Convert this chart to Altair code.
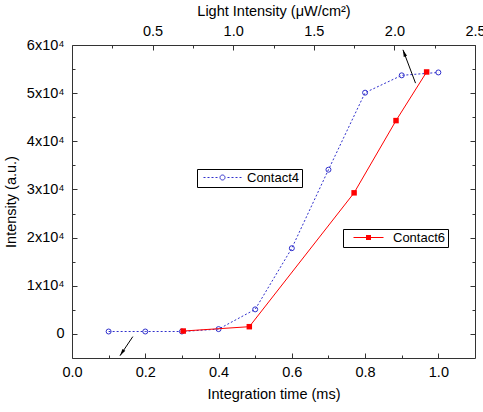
import altair as alt
import pandas as pd

# Contact4: intensity vs integration time (bottom axis)
c4_time = [0.1, 0.2, 0.3, 0.4, 0.5, 0.6, 0.7, 0.8, 0.9, 1.0]
c4_intensity = [500, 500, 500, 1000, 5100, 17800, 34100, 50100, 53700, 54300]

# Contact6: intensity vs light intensity (top axis)
c6_light = [0.69, 1.10, 1.75, 2.01, 2.20]
c6_intensity = [600, 1500, 29300, 44300, 54400]

# Axis ticks
time_labels = [0.0, 0.2, 0.4, 0.6, 0.8, 1.0]
time_minor = [0.1, 0.3, 0.5, 0.7, 0.9]
light_labels = [0.5, 1.0, 1.5, 2.0, 2.5]
light_minor = [0.25, 0.75, 1.25, 1.75, 2.25]
y_labels = [0, 10000, 20000, 30000, 40000, 50000, 60000]
y_minor = [5000, 15000, 25000, 35000, 45000, 55000]

# Arrows pointing each series to its own axis: [tail, tip]
arrow_time_x = [0.166, 0.131]
arrow_time_y = [-560, -4520]
arrow_light_x = [2.131, 2.053]
arrow_light_y = [52080, 59000]

FONT = "Liberation Sans"
BLUE = "#3030cc"
RED = "#ff0000"
TICK = "#333333"

x_time = alt.Scale(domain=[0, 1.1], nice=False, zero=False)
x_light = alt.Scale(domain=[0, 2.5], nice=False, zero=False)
y_scale = alt.Scale(domain=[-5000, 60000], nice=False, zero=False)

common = dict(grid=False, domain=False, labelFont=FONT, labelFontSize=14.5,
              labelColor="black", titleFont=FONT, titleFontSize=14.5,
              titleFontWeight="normal", titleColor="black",
              labelFlush=False, labelOverlap=False)


def label_axis(orient, values, title, **kw):
    return alt.Axis(orient=orient, values=values, ticks=False, tickSize=0,
                    title=title, **common, **kw)


def tick_axis(orient, values, size):
    # ticks drawn inward: the axis is pulled into the plot by its tick length
    return alt.Axis(orient=orient, values=values, labels=False, ticks=True,
                    tickSize=size, offset=-size, tickColor=TICK, tickWidth=1,
                    title=None, grid=False, domain=False)


ax_bottom = label_axis("bottom", time_labels, "Integration time (ms)",
                       format=".1f", labelPadding=7, titlePadding=9)
ax_top = label_axis("top", light_labels, "Light Intensity (\u03bcW/cm\u00b2)",
                    format=".1f", labelPadding=7, titlePadding=5)
ax_left = label_axis("left", y_labels, "Intensity (a.u.)", labelPadding=8,
                     titlePadding=8,
                     labelExpr="datum.value === 0 ? '0' : format(datum.value / 10000, 'd') + 'x10\u2074'")

c4 = pd.DataFrame({"t": c4_time, "v": c4_intensity, "series": "Contact4"})
c6 = pd.DataFrame({"l": c6_light, "v": c6_intensity, "series": "Contact6"})
a1 = pd.DataFrame({"x": arrow_time_x, "y": arrow_time_y, "order": [0, 1]})
a2 = pd.DataFrame({"x": arrow_light_x, "y": arrow_light_y, "order": [0, 1]})


def dotted(start, end, skip_lo, skip_hi, dash=0.4, gap=0.4):
    parts = []
    x = start
    while x < end - 1e-9:
        x2 = min(x + dash, end)
        if x2 <= skip_lo or x >= skip_hi:
            parts.append(f"M{x:.2f},0H{x2:.2f}")
        x += dash + gap
    return "".join(parts)


# legend samples: line with the series marker in the middle
sym_c4 = dotted(-0.4, 7.2, 2.9, 3.9) + "M2.9,0A0.5,0.5 0 1,1 3.9,0A0.5,0.5 0 1,1 2.9,0Z"
sym_c6 = ("M0.4,-0.1H2.9V0.1H0.4Z M3.9,-0.1H6.4V0.1H3.9Z "
          "M2.9,-0.5H3.9V0.5H2.9Z")

legend_common = dict(orient="none", title=None, symbolSize=100, labelOffset=35,
                     labelFont=FONT, labelFontSize=13, labelColor="black",
                     strokeColor="black", fillColor="white", padding=2)

c4_line = alt.Chart(c4).mark_line(color=BLUE, strokeDash=[2, 2], strokeWidth=1).encode(
    x=alt.X("t:Q", scale=x_time, axis=ax_bottom),
    y=alt.Y("v:Q", scale=y_scale, axis=ax_left),
)
c4_pts = alt.Chart(c4).mark_point(shape="circle", filled=False, size=25,
                                  strokeWidth=1, opacity=1).encode(
    x=alt.X("t:Q", scale=x_time, axis=tick_axis("bottom", time_labels, 5)),
    y=alt.Y("v:Q", scale=y_scale, axis=tick_axis("left", y_labels, 5)),
    color=alt.Color("series:N", scale=alt.Scale(domain=["Contact4"], range=[BLUE]),
                    legend=alt.Legend(legendX=125, legendY=124, symbolType=sym_c4,
                                      symbolStrokeWidth=1, **legend_common)),
)
c6_line = alt.Chart(c6).mark_line(color=RED, strokeWidth=1).encode(
    x=alt.X("l:Q", scale=x_light, axis=ax_top),
    y=alt.Y("v:Q", scale=y_scale, axis=tick_axis("right", y_labels, 5)),
)
c6_pts = alt.Chart(c6).mark_point(shape="square", filled=True, size=30, opacity=1).encode(
    x=alt.X("l:Q", scale=x_light, axis=tick_axis("top", light_labels, 5)),
    y=alt.Y("v:Q", scale=y_scale, axis=tick_axis("right", y_minor, 3)),
    color=alt.Color("series:N", scale=alt.Scale(domain=["Contact6"], range=[RED]),
                    legend=alt.Legend(legendX=271, legendY=184, symbolType=sym_c6,
                                      symbolStrokeWidth=0, **legend_common)),
)

head = "M0,0L0.5,2L-0.5,2Z"

a1_line = alt.Chart(a1).mark_line(color="black", strokeWidth=1).encode(
    x=alt.X("x:Q", scale=x_time, axis=tick_axis("bottom", time_minor, 3)),
    y=alt.Y("y:Q", scale=y_scale, axis=tick_axis("left", y_minor, 3)),
    order="order:Q",
)
a1_head = alt.Chart(a1).transform_filter("datum.order == 1").mark_point(
    shape=head, filled=True, size=49, color="black", opacity=1, angle=213.8
).encode(
    x=alt.X("x:Q", scale=x_time, axis=None),
    y=alt.Y("y:Q", scale=y_scale, axis=None),
)
a2_line = alt.Chart(a2).mark_line(color="black", strokeWidth=1).encode(
    x=alt.X("x:Q", scale=x_light, axis=tick_axis("top", light_minor, 3)),
    y=alt.Y("y:Q", scale=y_scale, axis=None),
    order="order:Q",
)
a2_head = alt.Chart(a2).transform_filter("datum.order == 1").mark_point(
    shape=head, filled=True, size=49, color="black", opacity=1, angle=339.6
).encode(
    x=alt.X("x:Q", scale=x_light, axis=None),
    y=alt.Y("y:Q", scale=y_scale, axis=None),
)

chart = alt.layer(
    c4_line, c4_pts, c6_line, c6_pts, a1_line, a1_head, a2_line, a2_head
).resolve_scale(
    x="independent", color="independent"
).resolve_axis(
    x="independent", y="independent"
).properties(
    width=403, height=313,
    autosize=alt.AutoSizeParams(type="none"),
    padding={"left": 72, "top": 45, "right": 8, "bottom": 54},
    background="white",
).configure_view(
    stroke="#333333", strokeWidth=1
)

chart.save("out.html", embed_options={"renderer": "svg", "actions": False})
